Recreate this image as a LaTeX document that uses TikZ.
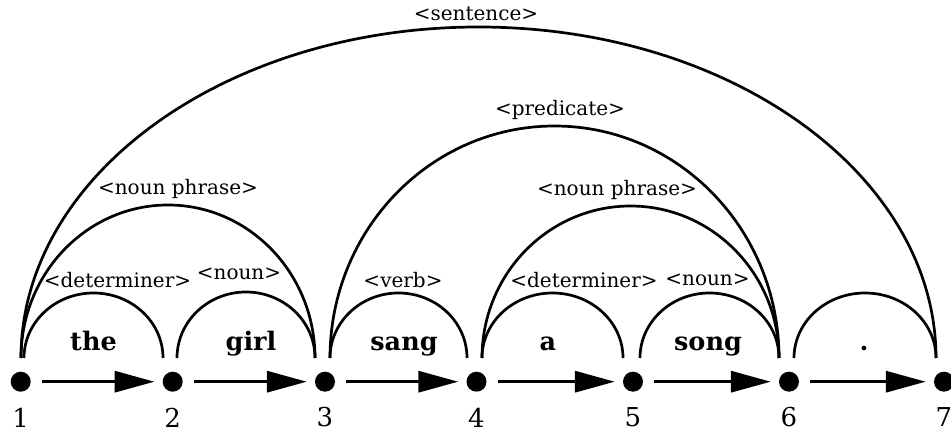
\documentclass[tikz,border=0pt]{standalone}
\usepackage{fontspec}
\setmainfont{DejaVu Serif}
\usetikzlibrary{arrows.meta}
\begin{document}
\begin{tikzpicture}[x=1pt,y=1pt,
  dotnode/.style={circle,fill=black,inner sep=0pt,minimum size=20pt},
  arcline/.style={line width=2.7pt,black},
  arrowline/.style={line width=3.4pt,-{Triangle[length=40pt,width=21pt]},shorten <=11pt,shorten >=8pt},
  tag/.style={font=\fontsize{20}{22}\selectfont,inner sep=0pt},
  word/.style={font=\fontsize{25.5}{28}\selectfont\bfseries,inner sep=0pt,anchor=base},
  num/.style={font=\fontsize{26}{28}\selectfont,inner sep=0pt}]
\useasboundingbox (0,0) rectangle (951,434);
% state nodes
\foreach \i/\x in {1/20.7,2/172.7,3/325,4/476.5,5/633,6/789,7/944}{
  \node[dotnode] (n\i) at (\x,52.3) {};
  \node[num] (l\i) at (\x,16.5) {\i};
}
% arrows
\foreach \a/\b in {1/2,2/3,3/4,4/5,5/6,6/7}{
  \draw[arrowline] (n\a) -- (n\b);
}
% arcs: left x / right x / top y (pixel)
\foreach \L/\R/\T in {24/163/293, 177/315/292, 330/467/293, 482/623/293, 640/779/293, 794/936/293,
                      21/315/205, 482/779/206, 330/779/126, 21/936/27}{
  \draw[arcline] (\L,76) arc[start angle=180,end angle=0,x radius={(\R-\L)/2},y radius={358-\T}];
}
% words
\node[word] (w1) at (93.5,83) {the};
\node[word] (w2) at (251,83) {girl};
\node[word] (w3) at (404,83) {sang};
\node[word] (w4) at (548,83) {a};
\node[word] (w5) at (708,83) {song};
\node[word] (w6) at (864,83) {.};
% category labels
\node[tag] (t1) at (117.5,154) {<determiner>};
\node[tag] (t2) at (239,160) {<noun>};
\node[tag] (t3) at (403,154) {<verb>};
\node[tag] (t4) at (584,154) {<determiner>};
\node[tag] (t5) at (707.5,154) {<noun>};
\node[tag] (t6) at (178,245) {<noun phrase>};
\node[tag] (t7) at (617,244) {<noun phrase>};
\node[tag] (t8) at (560,324) {<predicate>};
\node[tag] (t9) at (476,420) {<sentence>};
\end{tikzpicture}
\end{document}
